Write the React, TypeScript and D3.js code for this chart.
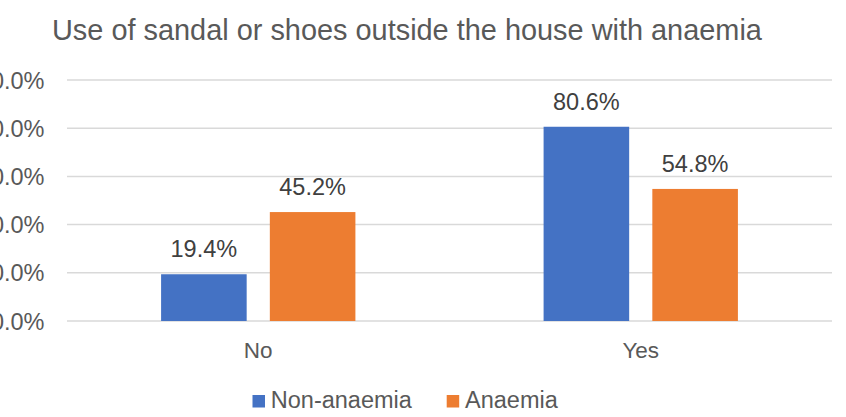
import React from "react";
import * as d3 from "d3";

const categories = ["No", "Yes"];
const seriesNames = ["Non-anaemia", "Anaemia"];
const nonAnaemia = [19.4, 80.6];
const anaemia = [45.2, 54.8];
const yTicks = [0, 20, 40, 60, 80, 100];
const colors = ["#4472C4", "#ED7D31"];

const W = 846;
const H = 417;
const FONT = "'Liberation Sans', Arial, sans-serif";
const TEXT = "#595959";

export default function App() {
  const left = 67;
  const right = 832;
  const top = 80;
  const bottom = 321;

  const x0 = d3.scaleBand<string>().domain(categories).range([left, right]).paddingInner(0.492).paddingOuter(0.246);
  const x1 = d3.scaleBand<string>().domain(seriesNames).range([0, x0.bandwidth()]).paddingInner(0.213).paddingOuter(0);
  const y = d3.scaleLinear().domain([0, 100]).range([bottom, top]);

  const series = [nonAnaemia, anaemia];

  return (
    <svg width={W} height={H} style={{ position: "absolute", left: 0, top: 0, background: "#fff" }} fontFamily={FONT}>
      <rect width={W} height={H} fill="#fff" />
      <text x={52} y={40} fontSize={28.9} fill={TEXT}>
        Use of sandal or shoes outside the house with anaemia
      </text>
      {yTicks.map((t) => (
        <g key={t}>
          <line x1={left} x2={right} y1={y(t)} y2={y(t)} stroke="#D9D9D9" strokeWidth={1.5} />
          <text x={44.5} y={y(t) + 8.5} fontSize={23.5} fill={TEXT} textAnchor="end">
            {t.toFixed(1) + "%"}
          </text>
        </g>
      ))}
      {categories.map((c, ci) => (
        <g key={c}>
          {series.map((vals, si) => {
            const bx = (x0(c) as number) + (x1(seriesNames[si]) as number);
            const bw = x1.bandwidth();
            const v = vals[ci];
            return (
              <g key={si}>
                <rect x={bx} y={y(v)} width={bw} height={y(0) - y(v)} fill={colors[si]} />
                <text x={bx + bw / 2} y={y(v) - 17} fontSize={23.5} fill="#404040" textAnchor="middle">
                  {v.toFixed(1) + "%"}
                </text>
              </g>
            );
          })}
          <text x={(x0(c) as number) + x0.bandwidth() / 2} y={357.5} fontSize={22.5} fill={TEXT} textAnchor="middle">
            {c}
          </text>
        </g>
      ))}
      {seriesNames.map((s, i) => {
        const lx = [252.5, 446.7][i];
        return (
          <g key={s}>
            <rect x={lx} y={395} width={12.5} height={12.5} fill={colors[i]} />
            <text x={lx + 18.3} y={408.3} fontSize={23.5} fill={TEXT}>
              {s}
            </text>
          </g>
        );
      })}
    </svg>
  );
}
